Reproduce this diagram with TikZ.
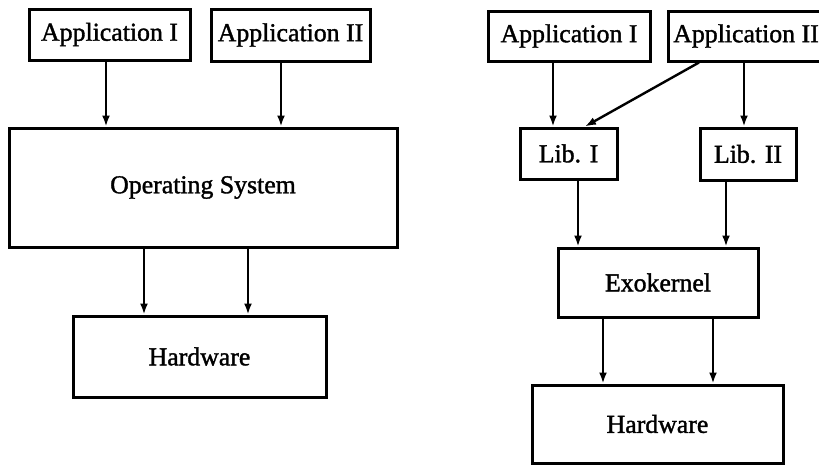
\documentclass[tikz,border=0pt]{standalone}
\usepackage{fontspec}
\setmainfont{Liberation Serif}
\newfontfamily\labelfont{Liberation Serif}[FakeBold=1.4]
\usetikzlibrary{arrows.meta}

\tikzset{
  box/.style={draw, line width=3pt, inner sep=0pt, fill=white,
    font=\labelfont\fontsize{25.8}{30}\selectfont},
  arr/.style={line width=2.4pt, -{Latex[length=11pt,width=8pt]}},
}

\begin{document}
\begin{tikzpicture}[x=1pt, y=-1pt]
\useasboundingbox[fill=white] (0,0) rectangle (819,466);

% ---- conventional operating system ----
\node[box, minimum width=161pt, minimum height=51pt]  (la1) at (109.5,34.5) {Application I};
\node[box, minimum width=159pt, minimum height=52pt]  (la2) at (290.5,35)   {Application II};
\node[box, minimum width=388pt, minimum height=119pt] (los) at (203,187.5)  {Operating System};
\node[box, minimum width=253pt, minimum height=81pt]  (lhw) at (199.5,356.5){Hardware};

\coordinate (p1) at (106,0);
\coordinate (p2) at (281,0);
\coordinate (p3) at (144,0);
\coordinate (p4) at (248,0);
\draw[arr] (la1.south -| p1) -- (los.north -| p1);
\draw[arr] (la2.south -| p2) -- (los.north -| p2);
\draw[arr] (los.south -| p3) -- (lhw.north -| p3);
\draw[arr] (los.south -| p4) -- (lhw.north -| p4);

% ---- exokernel ----
\node[box, minimum width=162pt, minimum height=50pt]  (ra1) at (569,36)      {Application I};
\node[box, minimum width=156pt, minimum height=50pt]  (ra2) at (746,36)      {Application II};
\node[box, minimum width=97pt,  minimum height=51pt]  (rl1) at (568.5,153.5) {Lib. I};
\node[box, minimum width=96pt,  minimum height=52pt]  (rl2) at (748,154)     {Lib. II};
\node[box, minimum width=200pt, minimum height=69pt]  (rex) at (658,282.5)   {Exokernel};
\node[box, minimum width=251pt, minimum height=78pt]  (rhw) at (657.5,424)   {Hardware};

\coordinate (q1) at (553,0);
\coordinate (q2) at (744,0);
\coordinate (q3) at (699,0);
\coordinate (q4) at (585,0);
\coordinate (q5) at (578,0);
\coordinate (q6) at (726,0);
\coordinate (q7) at (603,0);
\coordinate (q8) at (713,0);
\draw[arr] (ra1.south -| q1) -- (rl1.north -| q1);
\draw[arr] (ra2.south -| q2) -- (rl2.north -| q2);
\draw[arr] (ra2.south -| q3) -- (rl1.north -| q4);
\draw[arr] (rl1.south -| q5) -- (rex.north -| q5);
\draw[arr] (rl2.south -| q6) -- (rex.north -| q6);
\draw[arr] (rex.south -| q7) -- (rhw.north -| q7);
\draw[arr] (rex.south -| q8) -- (rhw.north -| q8);
\end{tikzpicture}
\end{document}
